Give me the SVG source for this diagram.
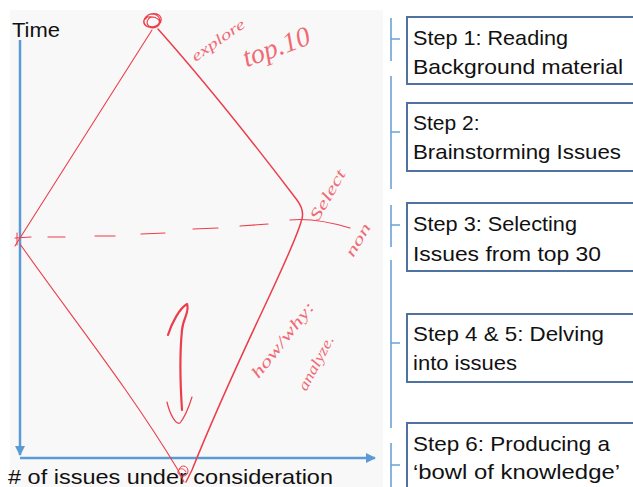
<svg xmlns="http://www.w3.org/2000/svg" width="633" height="487" viewBox="0 0 633 487">
  <style>
    .board { fill: #f8f8f8; }
    .axis { stroke: #5b9bd5; stroke-width: 2.5; fill: none; }
    .bracket { stroke: #6aa3d8; stroke-width: 1.6; fill: none; }
    .box { fill: #ffffff; stroke: #4f72a0; stroke-width: 2; }
    .label { font-family: "Liberation Sans", Arial, sans-serif; font-size: 21px; fill: #111; }
    .pen { stroke: #ec3d4b; fill: none; stroke-linecap: round; stroke-linejoin: round; }
    .hand { font-family: "Liberation Serif", serif; font-style: italic; fill: #f06a74; }
  </style>
  <defs>
    <marker id="arrow" viewBox="0 0 10 10" refX="9" refY="5" markerWidth="4" markerHeight="4" orient="auto" markerUnits="strokeWidth">
      <path d="M0,0 L10,5 L0,10 Z" fill="#5b9bd5"/>
    </marker>
  </defs>

  <rect width="633" height="487" fill="#ffffff"/>

  <!-- whiteboard area -->
  <rect class="board" x="10" y="10" width="373" height="477"/>

  <!-- axes -->
  <g id="axes">
    <line class="axis" x1="20" y1="40" x2="20" y2="455" marker-end="url(#arrow)"/>
    <line class="axis" x1="20" y1="458" x2="375" y2="458" marker-end="url(#arrow)"/>
    <text class="label" x="12" y="37" font-size="20" textLength="48" lengthAdjust="spacingAndGlyphs">Time</text>
    <text class="label" x="8" y="484" textLength="325" lengthAdjust="spacingAndGlyphs">&#35; of issues under consideration</text>
  </g>

  <!-- hand-drawn diamond and notes -->
  <g id="sketch">
    <path class="pen" stroke-width="1.1" d="M152,30 L20,238 L15,246"/>
    <path class="pen" stroke-width="1.5" d="M158,29 C190,65 240,125 297,200 C303,208 304,215 301,222 C290,260 240,350 192,470 L186,482"/>
    <path class="pen" stroke-width="1.1" d="M20,244 C70,315 130,390 178,470 L184,482"/>
    <path class="pen" stroke-width="1.2" d="M15,238 L31,237 M48,237 L65,237 M95,236 L115,236 M141,234 L165,233 M193,229 L218,228 M240,226 L268,224 M290,220 C310,218 330,222 350,228"/>
    <path class="pen" stroke-width="1" d="M17,233 L17,245"/>
    <!-- scribbled circles at the turning points -->
    <path class="pen" stroke-width="1.1" d="M146,19 C147,12 159,12 161,18 C163,25 152,29 146,26 C141,22 145,14 153,14 C160,15 162,22 158,26 C153,30 144,27 144,21 C145,15 155,16 159,20 C161,25 153,28 149,26 C145,23 148,17 153,17"/>
    <path class="pen" stroke-width="1" d="M179,470 C180,464 188,465 188,471 C188,477 180,478 178,473 C177,468 184,467 186,472"/>
    <!-- up/down iteration arrow -->
    <path class="pen" stroke-width="2.2" d="M168,335 C172,322 180,308 187,304 C190,312 183,318 182,330 C180,350 180,380 182,410"/>
    <path class="pen" stroke-width="1.2" d="M167,402 C170,415 176,425 180,423 C184,418 188,410 192,397"/>
    <!-- handwritten notes -->
    <text class="hand" x="218" y="45" font-size="15" text-anchor="middle" transform="rotate(-35 218 40)" textLength="62" lengthAdjust="spacingAndGlyphs">explore</text>
    <text class="hand" x="276" y="56" font-size="28" text-anchor="middle" transform="rotate(-20 276 46)" textLength="70" lengthAdjust="spacingAndGlyphs">top.10</text>
    <text class="hand" x="328" y="200" font-size="16" text-anchor="middle" transform="rotate(-60 328 195)" textLength="56" lengthAdjust="spacingAndGlyphs">Select</text>
    <text class="hand" x="358" y="245" font-size="15" text-anchor="middle" transform="rotate(-60 358 240)" textLength="36" lengthAdjust="spacingAndGlyphs">non</text>
    <text class="hand" x="283" y="345" font-size="16" text-anchor="middle" transform="rotate(-52 283 340)" textLength="92" lengthAdjust="spacingAndGlyphs">how/why:</text>
    <text class="hand" x="316" y="368" font-size="15" text-anchor="middle" transform="rotate(-62 316 363)" textLength="60" lengthAdjust="spacingAndGlyphs">analyze.</text>
  </g>

  <!-- brackets tying each phase to its step -->
  <g id="connectors">
    <path class="bracket" d="M391,18 V61 M391,39 H400"/>
    <path class="bracket" d="M391,76 V189 M391,132 H400"/>
    <path class="bracket" d="M391,205 V247 M391,225 H400"/>
    <path class="bracket" d="M391,260 V428 M391,343 H400"/>
    <path class="bracket" d="M391,443 V487 M391,465 H400"/>
  </g>

  <g id="step1">
    <rect class="box" x="407" y="17" width="240" height="67"/>
    <text class="label" x="413" y="45" textLength="155" lengthAdjust="spacingAndGlyphs">Step 1: Reading</text>
    <text class="label" x="413" y="74" textLength="210" lengthAdjust="spacingAndGlyphs">Background material</text>
  </g>
  <g id="step2">
    <rect class="box" x="407" y="103" width="240" height="68"/>
    <text class="label" x="413" y="130">Step 2:</text>
    <text class="label" x="413" y="159" textLength="208" lengthAdjust="spacingAndGlyphs">Brainstorming Issues</text>
  </g>
  <g id="step3">
    <rect class="box" x="407" y="203" width="240" height="68"/>
    <text class="label" x="413" y="231" textLength="164" lengthAdjust="spacingAndGlyphs">Step 3: Selecting</text>
    <text class="label" x="413" y="261" textLength="188" lengthAdjust="spacingAndGlyphs">Issues from top 30</text>
  </g>
  <g id="step4">
    <rect class="box" x="407" y="314" width="240" height="68"/>
    <text class="label" x="413" y="341" textLength="191" lengthAdjust="spacingAndGlyphs">Step 4 &amp; 5: Delving</text>
    <text class="label" x="413" y="370" textLength="104" lengthAdjust="spacingAndGlyphs">into issues</text>
  </g>
  <g id="step6">
    <rect class="box" x="407" y="423" width="240" height="80"/>
    <text class="label" x="413" y="451" textLength="197" lengthAdjust="spacingAndGlyphs">Step 6: Producing a</text>
    <text class="label" x="413" y="479" textLength="207" lengthAdjust="spacingAndGlyphs">‘bowl of knowledge’</text>
  </g>
</svg>
